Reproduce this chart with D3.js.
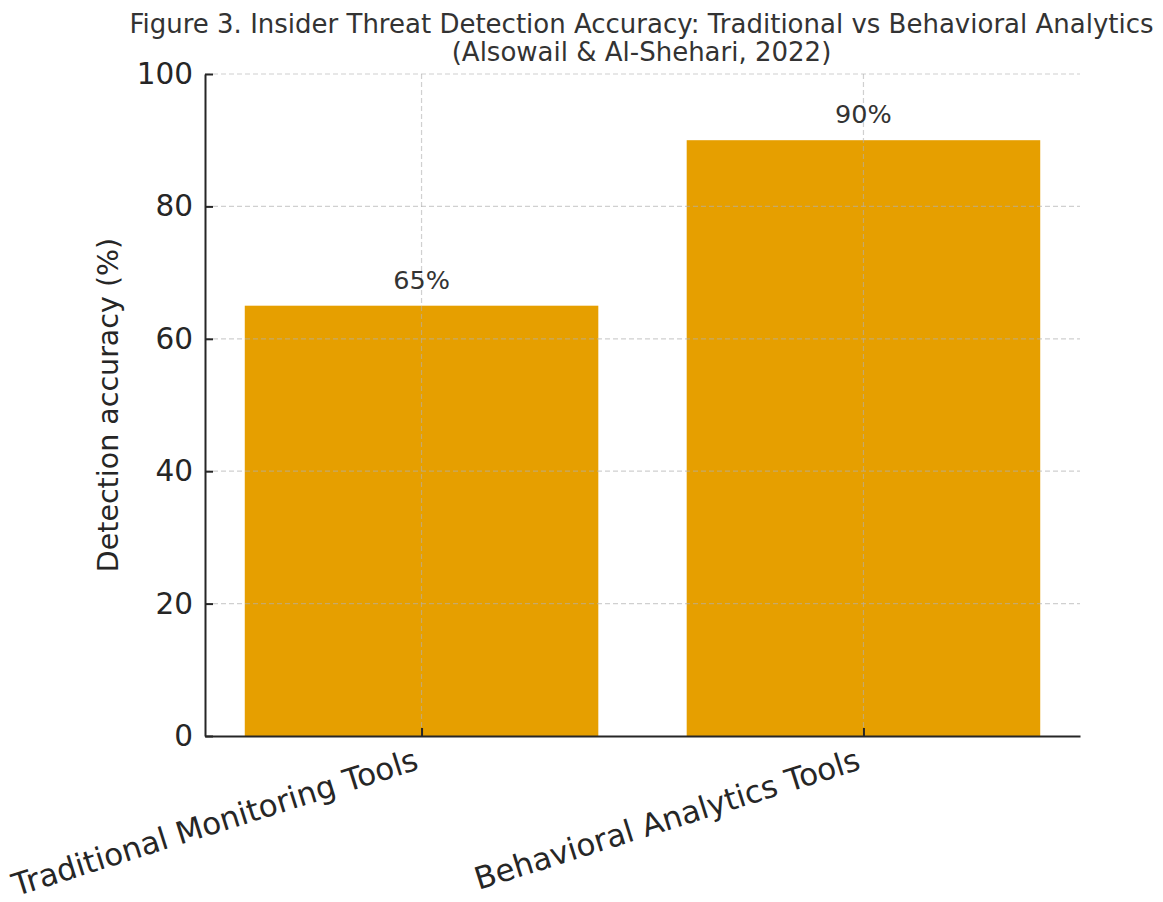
<!DOCTYPE html>
<html><head><meta charset="utf-8">
<script src="https://cdn.jsdelivr.net/npm/d3@7"></script>
<style>body{margin:0;background:#fff}svg{display:block}text{font-family:"DejaVu Sans",sans-serif}</style>
</head><body>
<svg id="c" width="1163" height="902"></svg>
<script>
const categories = ["Traditional Monitoring Tools", "Behavioral Analytics Tools"];
const values = [65, 90];
const valueLabels = ["65%", "90%"];
const yTicks = [0, 20, 40, 60, 80, 100];
const titleLines = ["Figure 3. Insider Threat Detection Accuracy: Traditional vs Behavioral Analytics", "(Alsowail & Al-Shehari, 2022)"];
const yLabel = "Detection accuracy (%)";

const svg = d3.select("#c");
const L = 205, R = 1080, T = 74, B = 736;
const x = d3.scaleLinear().domain([-0.49, 1.49]).range([L, R]);
const y = d3.scaleLinear().domain([0, 100]).range([B, T]);
const bw = x(0.4) - x(-0.4);

// bars
svg.append("g").selectAll("rect").data(values).join("rect")
  .attr("x", (d, i) => x(i) - bw / 2).attr("width", bw)
  .attr("y", d => y(d)).attr("height", d => y(0) - y(d))
  .attr("fill", "#E69F00");

// grid
const grid = svg.append("g").attr("stroke", "#b0b0b0").attr("stroke-opacity", 0.6)
  .attr("stroke-width", 1.2).attr("stroke-dasharray", "5,3");
grid.selectAll("line.h").data(yTicks.filter(t => t > 0)).join("line").attr("class", "h")
  .attr("x1", L).attr("x2", R).attr("y1", d => y(d)).attr("y2", d => y(d));
grid.selectAll("line.v").data(categories).join("line").attr("class", "v")
  .attr("x1", (d, i) => x(i)).attr("x2", (d, i) => x(i)).attr("y1", T).attr("y2", B);

// y axis
const ya = svg.append("g").attr("transform", `translate(${L},0)`)
  .call(d3.axisLeft(y).tickValues(yTicks).tickSizeInner(-8).tickSizeOuter(0).tickPadding(12));
ya.select(".domain").attr("stroke", "#262626").attr("stroke-width", 2);
ya.selectAll(".tick line").attr("stroke", "#262626").attr("stroke-width", 2);
ya.selectAll(".tick text").attr("font-size", 29.5).attr("fill", "#262626")
  .attr("font-family", "DejaVu Sans");

// x axis
const xa = svg.append("g").attr("transform", `translate(0,${B})`)
  .call(d3.axisBottom(x).tickValues([0, 1]).tickFormat(i => categories[i]).tickSizeInner(-8).tickSizeOuter(0).tickPadding(0));
xa.select(".domain").attr("stroke", "#262626").attr("stroke-width", 2);
xa.selectAll(".tick line").attr("stroke", "#262626").attr("stroke-width", 2);
xa.selectAll(".tick text").attr("font-size", 31).attr("fill", "#262626")
  .attr("font-family", "DejaVu Sans")
  .attr("text-anchor", "end").attr("dy", null)
  .attr("transform", "translate(-2,33) rotate(-17.5)");
xa.selectAll(".tick text").attr("y", 0);

// value labels
svg.append("g").selectAll("text").data(values).join("text")
  .attr("x", (d, i) => x(i)).attr("y", d => y(d) - 17)
  .attr("text-anchor", "middle").attr("font-size", 25.5).attr("fill", "#333")
  .text((d, i) => valueLabels[i]);

// y label
svg.append("text").attr("transform", `translate(118,${(T + B) / 2}) rotate(-90)`)
  .attr("text-anchor", "middle").attr("font-size", 28.5).attr("fill", "#262626").text(yLabel);

// title
svg.append("g").selectAll("text").data(titleLines).join("text")
  .attr("x", (L + R) / 2 - 1).attr("y", (d, i) => 33 + i * 28)
  .attr("text-anchor", "middle").attr("font-size", 26).attr("fill", "#333").text(d => d);
</script>
</body></html>
